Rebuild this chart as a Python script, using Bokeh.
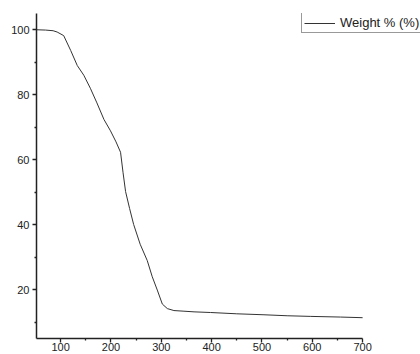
from bokeh.plotting import figure
from bokeh.models import FixedTicker, Range1d, Legend, LegendItem
from bokeh.embed import file_html
from bokeh.resources import INLINE

temperature = [52, 70, 85, 93, 106, 120, 133, 146, 159, 172, 186, 199, 210, 219, 224, 229,
               237, 245, 258, 272, 282, 292, 302, 312, 325, 345, 365, 398, 450, 504,
               550, 597, 656, 700]
weight = [100, 99.9, 99.7, 99.3, 98.2, 93.6, 89, 86, 82, 77.5, 72.4, 68.9, 65.5, 62.3, 56, 50.2,
          45, 40.1, 34, 29, 24, 19.9, 15.6, 14.2, 13.6, 13.4, 13.2, 13.0, 12.6, 12.3,
          12.0, 11.8, 11.6, 11.4]
x_ticks = [100, 200, 300, 400, 500, 600, 700]
x_minor = [150, 250, 350, 450, 550, 650]
y_ticks = [20, 40, 60, 80, 100]
y_minor = [10, 30, 50, 70, 90]
series_name = "Weight % (%)"

p = figure(width=420, height=354, output_backend="svg", toolbar_location=None,
           x_range=Range1d(52, 815), y_range=Range1d(5, 105),
           min_border_left=36, min_border_right=0, min_border_top=13, min_border_bottom=16)
p.outline_line_color = None
p.xgrid.visible = False
p.ygrid.visible = False

r = p.line(temperature, weight, line_color="#333333", line_width=1)

for ax, ticks, minor in ((p.xaxis[0], x_ticks, x_minor), (p.yaxis[0], y_ticks, y_minor)):
    ax.ticker = FixedTicker(ticks=ticks, minor_ticks=minor)
    ax.axis_line_width = 1.5
    ax.axis_line_color = "#222222"
    ax.major_tick_line_color = "#222222"
    ax.minor_tick_line_color = "#222222"
    ax.major_tick_line_width = 1.3
    ax.minor_tick_line_width = 1.3
    ax.major_tick_out = 4
    ax.major_tick_in = 0
    ax.minor_tick_out = 2
    ax.minor_tick_in = 0
    ax.major_label_text_font = "Liberation Sans"
    ax.major_label_text_font_size = "11px"
    ax.major_label_text_color = "#222222"

p.xaxis[0].bounds = (52, 700)
p.xaxis[0].major_label_standoff = 0
p.yaxis[0].major_label_standoff = 3

legend = Legend(items=[LegendItem(label=series_name, renderers=[r])],
                location=(265, 305), glyph_width=31, glyph_height=14,
                label_height=14, label_standoff=5, padding=2, spacing=0, margin=0,
                border_line_color="#333333", border_line_width=1,
                label_text_font="Liberation Sans", label_text_font_size="13px",
                label_text_color="#222222", background_fill_alpha=1)
p.add_layout(legend)

open("out.html", "w").write(file_html(p, INLINE))
